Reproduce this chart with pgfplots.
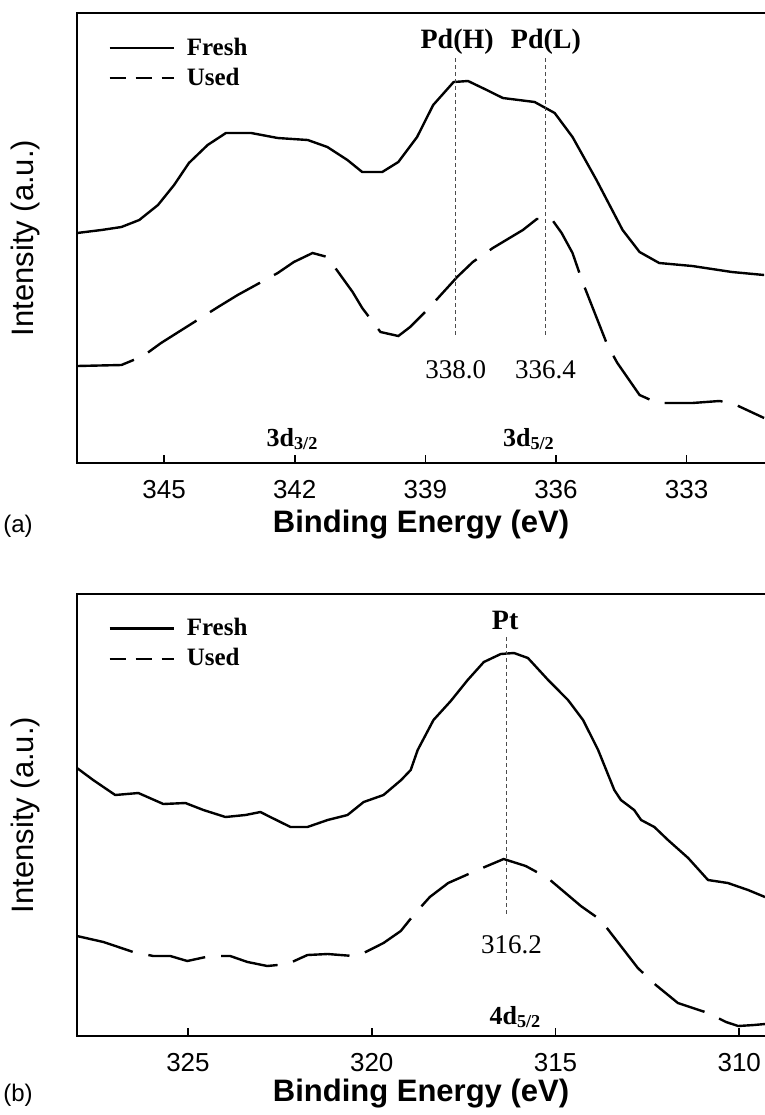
\documentclass[border=0pt]{standalone}
\usepackage{fontspec}
\setmainfont{Liberation Serif}
\setsansfont{Liberation Sans}
\usepackage{pgfplots}
\pgfplotsset{compat=1.18}

\newcommand{\fs}[1]{\fontsize{#1}{#1}\selectfont}

\tikzset{
  fresh/.style={black, line width=1.2pt, line join=round},
  used/.style={black, line width=1.2pt, dash pattern=on 29pt off 8pt},
  peakline/.style={gray!60!black, line width=0.5pt, dash pattern=on 2pt off 1.5pt},
}

% shared look of both XPS panels
\pgfplotsset{
  xps/.style={
    scale only axis, width=344pt,
    x dir=reverse,
    ytick=\empty,
    axis line style={draw=none},
    tick align=inside, xtick pos=bottom,
    major tick length=4pt,
    every tick/.style={black, line width=0.8pt},
    xticklabel style={font=\sffamily\fs{13}, yshift=-5pt},
    /pgf/number format/assume math mode=true,
    every axis x label/.style={at={(axis description cs:0.5,0)}, anchor=center,
      yshift=-31pt, font=\sffamily\bfseries\fs{15.5}},
    every axis y label/.style={at={(axis description cs:0,0.5)}, anchor=center,
      xshift=-26pt, rotate=90, font=\sffamily\fs{15.5}},
    xlabel={Binding Energy (eV)},
    ylabel={Intensity (a.u.)},
    clip=false,
    legend style={draw=none, fill=none, anchor=north west,
      at={(axis description cs:0.045,0.955)}, inner sep=0pt, row sep=1pt,
      font=\bfseries\fs{12.5}, cells={anchor=west},
      /tikz/every odd column/.style={column sep=4pt}},
    legend image code/.code={\draw[#1] (0pt,0pt) -- (32pt,0pt);},
  },
}

\begin{document}
\begin{tikzpicture}
\useasboundingbox (0,0) rectangle (382.5pt,-557.5pt);

% ---------------- (a) Pd 3d ----------------
\begin{axis}[xps, at={(38.5pt,-6.5pt)}, anchor=north west, height=225pt,
  xmin=331.2, xmax=347, ymin=0, ymax=450,
  xtick={333,336,339,342,345}]
\addlegendimage{fresh}
\addlegendentry{Fresh}
\addlegendimage{black, line width=1.2pt, dash pattern=on 8pt off 5pt}
\addlegendentry{Used}

\addplot[fresh, forget plot] coordinates {
 (347.0,230) (346.44,233) (345.98,236) (345.57,243) (345.14,258) (344.77,278)
 (344.43,300) (344.0,318) (343.58,330) (343.0,330) (342.39,325) (341.7,323)
 (341.25,316) (340.79,303) (340.45,291) (339.99,291) (339.62,301) (339.19,326)
 (338.82,358) (338.35,381) (338.02,382) (337.59,373) (337.22,365) (336.49,361)
 (336.03,350) (335.62,326) (335.07,283) (334.47,233) (334.08,211) (333.63,200)
 (332.87,197) (331.96,191) (331.22,188)
};
\addplot[used, forget plot] coordinates {
 (347.0,97) (345.98,98) (345.48,107) (345.07,120) (343.76,156) (343.31,168)
 (342.39,190) (342.02,201) (341.59,210) (341.25,206) (340.67,171) (340.45,155)
 (340.03,131) (339.62,127) (339.35,136) (338.96,153) (338.27,186) (337.91,201)
 (337.45,215) (336.76,233) (336.44,244) (336.1,244) (335.87,230) (335.62,210)
 (335.39,181) (334.82,118) (334.59,100) (334.08,68) (333.67,60) (332.87,60)
 (332.25,62) (331.96,60) (331.22,45)
};

\draw[peakline] (axis cs:338.3,405) -- (axis cs:338.3,125);
\draw[peakline] (axis cs:336.25,405) -- (axis cs:336.25,125);
\node[font=\bfseries\fs{14}] at (axis cs:338.27,421) {Pd(H)};
\node[font=\bfseries\fs{14}] at (axis cs:336.23,421) {Pd(L)};
\node[font=\fs{13.5}] at (axis cs:338.3,93) {338.0};
\node[font=\fs{13.5}] at (axis cs:336.24,93) {336.4};
\node[font=\bfseries\fs{13}] at (axis cs:342.05,24) {3d\textsubscript{3/2}};
\node[font=\bfseries\fs{13}] at (axis cs:336.62,24) {3d\textsubscript{5/2}};

\draw[line width=1.3pt] (axis description cs:1,1) -- (axis description cs:0,1)
  -- (axis description cs:0,0) -- (axis description cs:1,0);
\end{axis}
\node[font=\sffamily\fs{12}] at (9pt,-263pt) {(a)};

% ---------------- (b) Pt 4d ----------------
\begin{axis}[xps, at={(38.5pt,-297pt)}, anchor=north west, height=221pt,
  xmin=309.3, xmax=328.02, ymin=0, ymax=442,
  xtick={310,315,320,325},
  every axis x label/.append style={yshift=2pt}]
\addlegendimage{fresh}
\addlegendentry{Fresh}
\addlegendimage{black, line width=1.2pt, dash pattern=on 8pt off 5pt}
\addlegendentry{Used}

\addplot[fresh, forget plot] coordinates {
 (328.02,268) (327.58,256) (326.98,241) (326.35,243) (325.67,232) (325.07,233)
 (324.58,226) (323.98,219) (323.44,221) (323.03,224) (322.76,219) (322.21,209)
 (321.75,209) (321.2,216) (320.66,221) (320.22,234) (319.68,241) (319.2,256)
 (318.94,266) (318.75,286) (318.32,316) (317.85,335) (317.39,356) (316.95,374)
 (316.49,382) (316.13,383) (315.75,378) (315.2,356) (314.66,336) (314.25,316)
 (313.84,286) (313.4,246) (313.22,236) (312.86,226) (312.67,216) (312.31,209)
 (311.94,196) (311.39,178) (310.85,156) (310.31,153) (309.76,146) (309.3,139)
};
\addplot[used, forget plot] coordinates {
 (328.02,100) (327.3,94) (326.49,84) (325.94,80) (325.48,80) (325.02,75)
 (324.39,80) (323.85,80) (323.38,74) (322.84,70) (322.29,72) (321.75,81)
 (321.2,82) (320.5,80) (320.22,83) (319.68,93) (319.21,105) (318.86,121)
 (318.42,139) (317.92,153) (317.12,166) (316.41,177) (315.81,170) (315.21,158)
 (314.31,130) (313.77,116) (312.76,68) (312.27,51) (311.67,33) (310.85,23)
 (310.36,14) (310.03,10) (309.6,11) (309.3,12)
};

\draw[peakline] (axis cs:316.33,399) -- (axis cs:316.33,119);
\node[font=\bfseries\fs{14}] at (axis cs:316.37,416) {Pt};
\node[font=\fs{13.5}] at (axis cs:316.2,91) {316.2};
\node[font=\bfseries\fs{13}] at (axis cs:316.09,19) {4d\textsubscript{5/2}};

\draw[line width=1.3pt] (axis description cs:1,1) -- (axis description cs:0,1)
  -- (axis description cs:0,0) -- (axis description cs:1,0);
\end{axis}
\node[font=\sffamily\fs{12}] at (9pt,-547.5pt) {(b)};
\end{tikzpicture}
\end{document}
